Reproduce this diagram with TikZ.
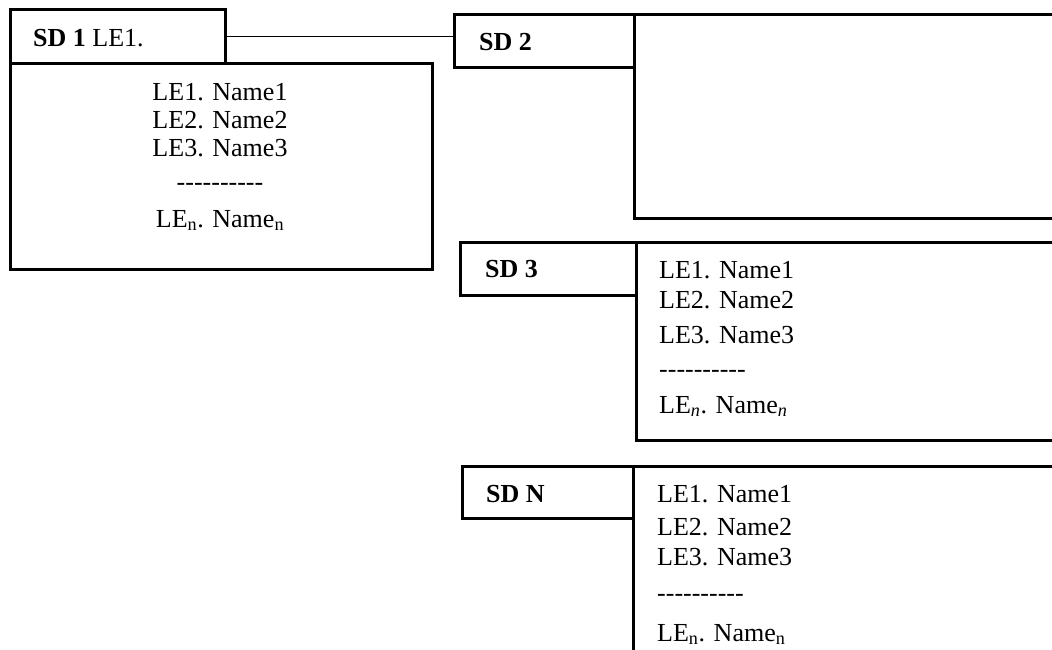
\documentclass[tikz,border=0pt]{standalone}
\usepackage{fontspec}
\setmainfont{Liberation Serif}
\newcommand\dashrow{-\kern0pt-\kern0pt-\kern0pt-\kern0pt-\kern0pt-\kern0pt-\kern0pt-\kern0pt-\kern0pt-}
\newcommand\subn{\textsubscript{n}}
\newcommand\subni{\textsubscript{\textit{n}}}
\begin{document}
\begin{tikzpicture}[x=1pt,y=-1pt,
  box/.style={draw=black, line width=2.6pt, rectangle, inner sep=0pt, anchor=north west},
  lbl/.style={font=\fontsize{26}{30}\selectfont, anchor=base west, inner sep=0pt},
  txt/.style={font=\fontsize{26}{30}\selectfont, inner sep=0pt},
  txtl/.style={txt, anchor=base west},
  txtc/.style={txt, anchor=base},
  link/.style={draw=black, line width=1.2pt}]
\useasboundingbox (0,0) rectangle (1052,650);
\clip (0,0) rectangle (1052,650);

% SD 1
\node[box, minimum width=422pt, minimum height=206pt] (b1) at (9,62) {};
\node[box, minimum width=215pt, minimum height=54pt] (h1) at (9,8) {};
\node[lbl] (t1) at (33,47) {\textbf{SD 1} LE1.};
\node[txtc] (s1l1) at (220,101) {LE1. Name1};
\node[txtc] (s1l2) at (220,129) {LE2. Name2};
\node[txtc] (s1l3) at (220,157) {LE3. Name3};
\node[txtc] (s1l4) at (220,190) {\dashrow};
\node[txtc] (s1l5) at (220,227) {LE\subn. Name\subn};

% SD 2
\node[box, minimum width=450pt, minimum height=204pt] (b2) at (633,13) {};
\node[box, minimum width=180pt, minimum height=53pt] (h2) at (453,13) {};
\node[lbl] (t2) at (479,51) {\textbf{SD 2}};

% SD 3
\node[box, minimum width=450pt, minimum height=198pt] (b3) at (635,241) {};
\node[box, minimum width=176pt, minimum height=53pt] (h3) at (459,241) {};
\node[lbl] (t3) at (485,277) {\textbf{SD 3}};
\node[txtl] (s3l1) at (659,278) {LE1. Name1};
\node[txtl] (s3l2) at (659,308) {LE2. Name2};
\node[txtl] (s3l3) at (659,343) {LE3. Name3};
\node[txtl] (s3l4) at (659,377) {\dashrow};
\node[txtl] (s3l5) at (659,413) {LE\subni. Name\subni};

% SD N
\node[box, minimum width=450pt, minimum height=250pt] (bN) at (632,465) {};
\node[box, minimum width=171pt, minimum height=52pt] (hN) at (461,465) {};
\node[lbl] (tN) at (486,502) {\textbf{SD N}};
\node[txtl] (sNl1) at (657,502) {LE1. Name1};
\node[txtl] (sNl2) at (657,535) {LE2. Name2};
\node[txtl] (sNl3) at (657,565) {LE3. Name3};
\node[txtl] (sNl4) at (657,601) {\dashrow};
\node[txtl] (sNl5) at (657,641) {LE\subn. Name\subn};

% connector
\draw[link] (h1.east) -- (h2.west |- h1.east);
\end{tikzpicture}
\end{document}
